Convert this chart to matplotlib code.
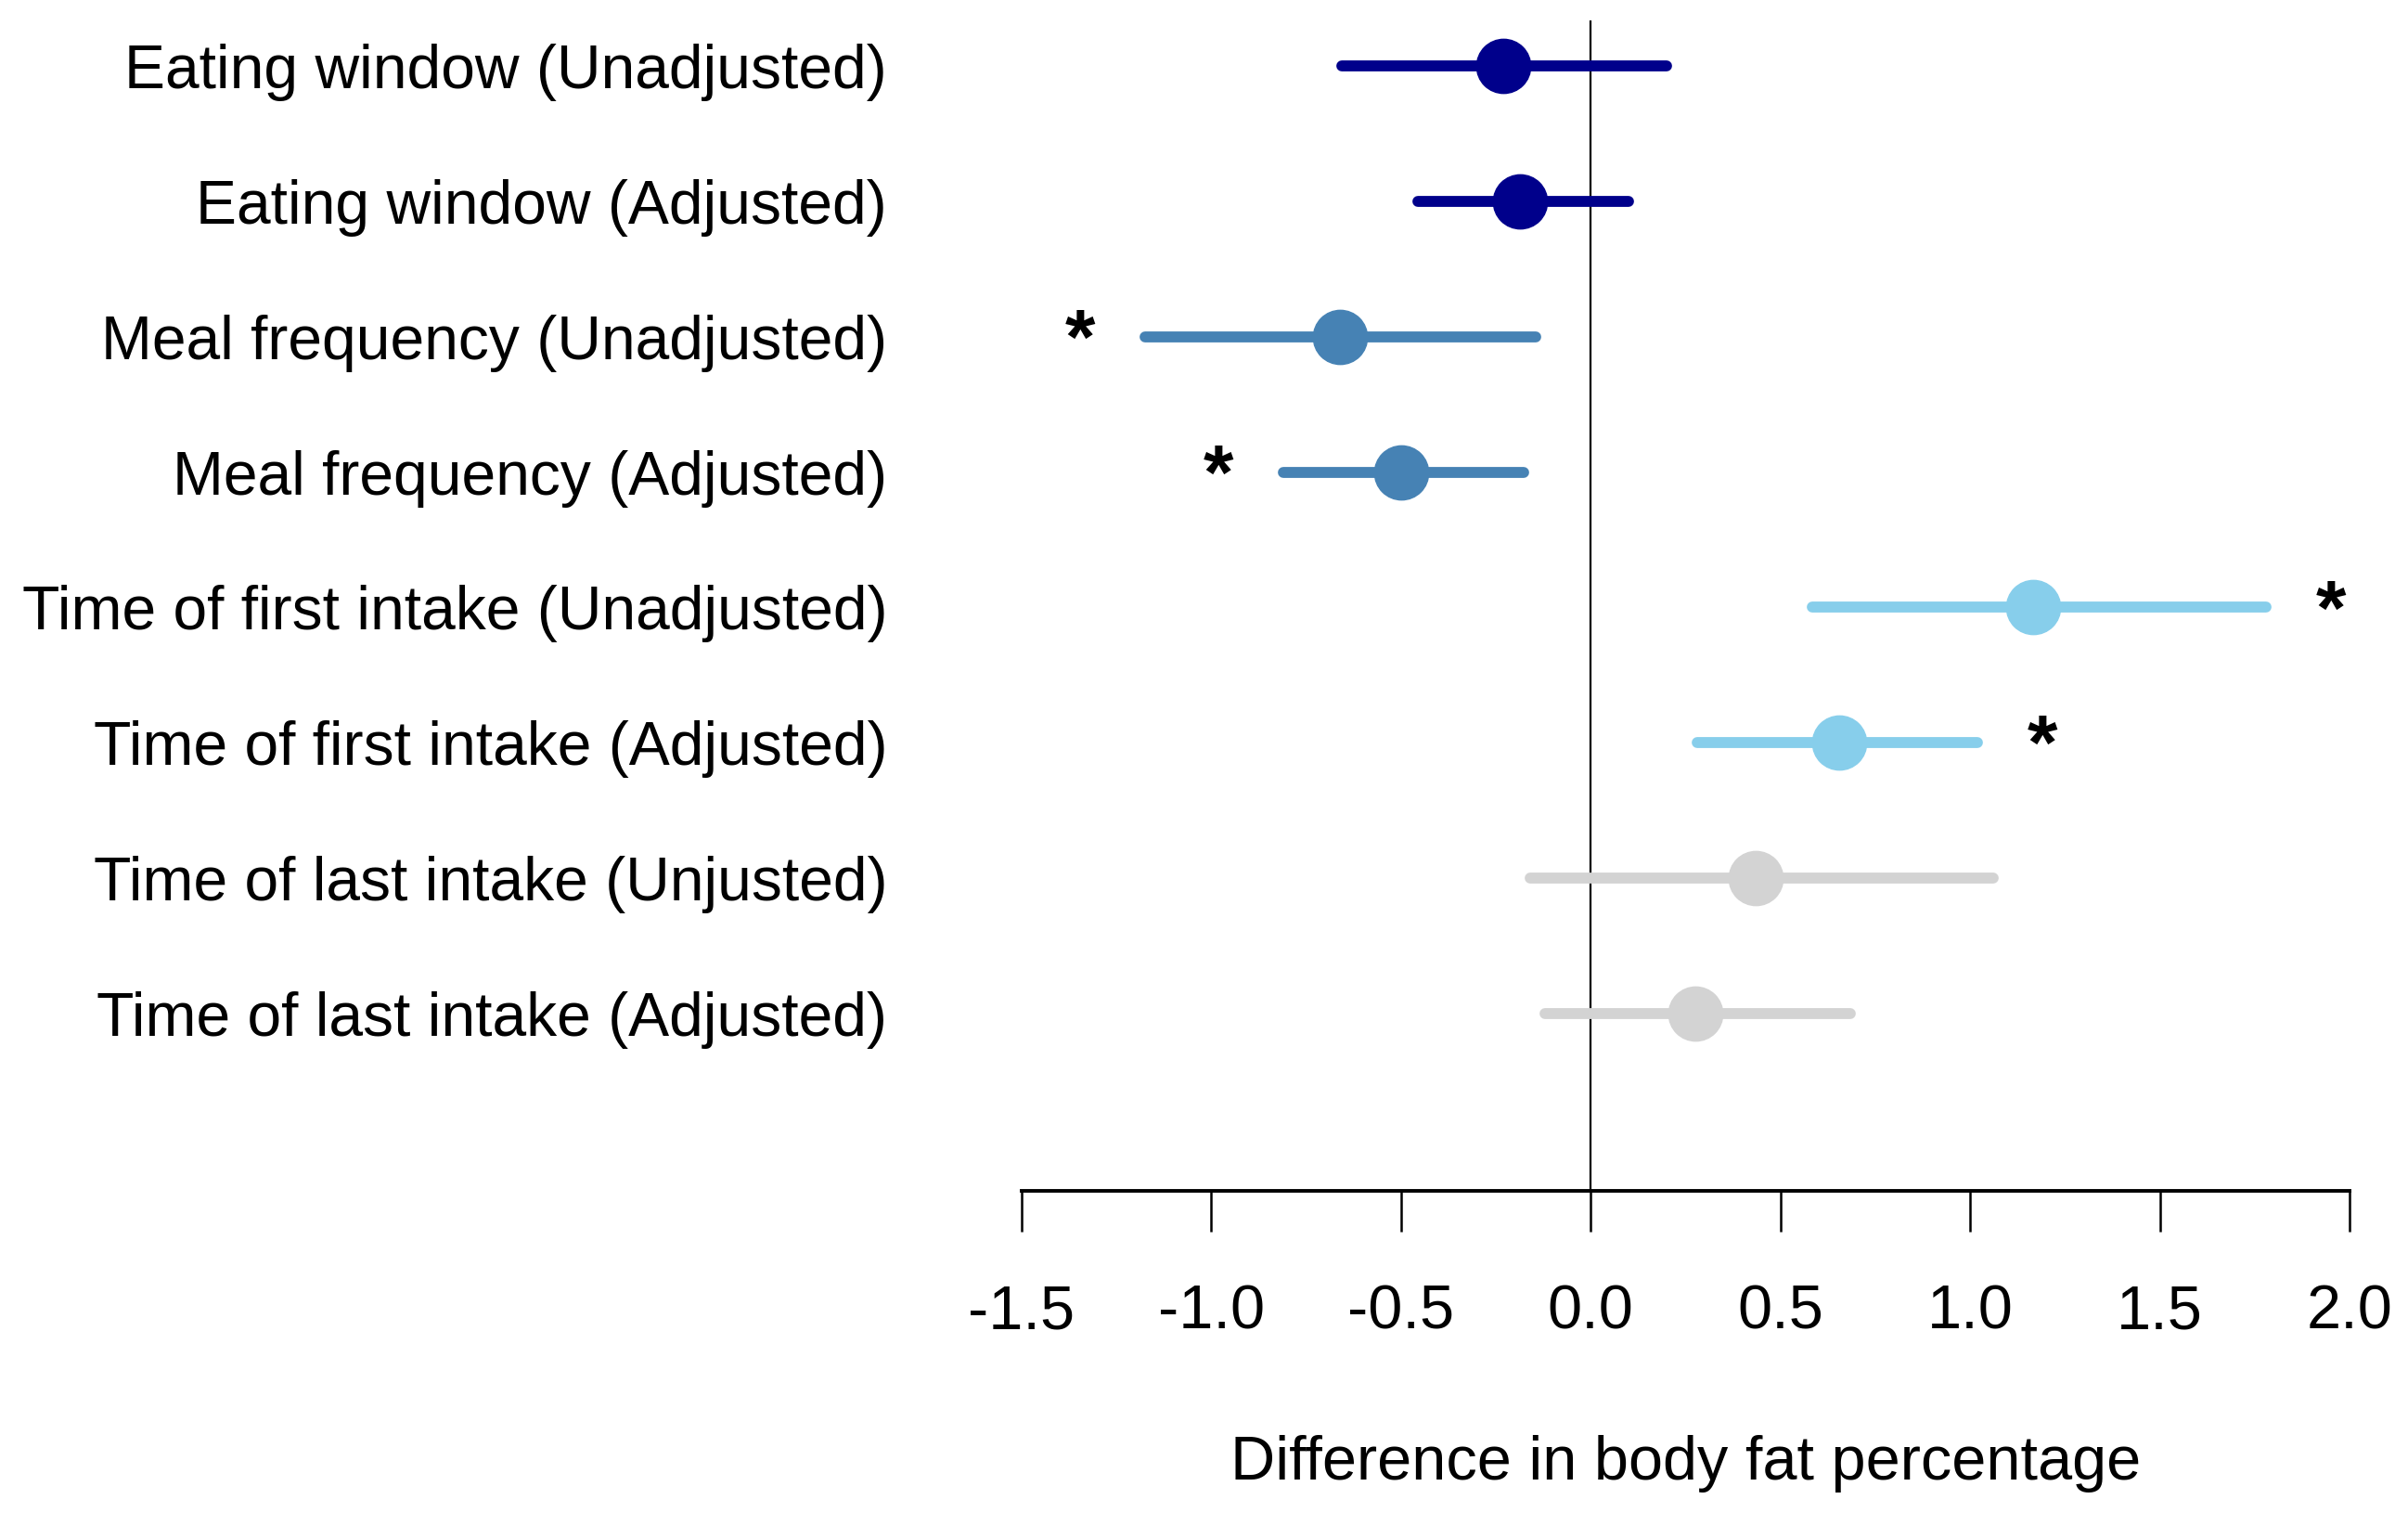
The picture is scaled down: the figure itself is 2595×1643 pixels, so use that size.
import matplotlib.pyplot as plt

labels = ["Eating window (Unadjusted)", "Eating window (Adjusted)",
          "Meal frequency (Unadjusted)", "Meal frequency (Adjusted)",
          "Time of first intake (Unadjusted)", "Time of first intake (Adjusted)",
          "Time of last intake (Unjusted)", "Time of last intake (Adjusted)"]
estimate = [-0.23, -0.185, -0.66, -0.50, 1.165, 0.655, 0.435, 0.275]
lower = [-0.655, -0.455, -1.175, -0.81, 0.585, 0.28, -0.16, -0.12]
upper = [0.20, 0.10, -0.145, -0.175, 1.78, 1.02, 1.06, 0.685]
significant = [False, False, True, True, True, True, False, False]
colors = ["#00008B", "#00008B", "#4682B4", "#4682B4",
          "#87CEEB", "#87CEEB", "#D3D3D3", "#D3D3D3"]
x_ticks = [-1.5, -1.0, -0.5, 0.0, 0.5, 1.0, 1.5, 2.0]

plt.rcParams["font.family"] = ["Liberation Sans", "DejaVu Sans"]

W, H = 2595, 1643
fig = plt.figure(figsize=(W / 100, H / 100), dpi=100)
left, right = 1100.6 / W, 2532 / W
bottom, top = 1 - 1283 / H, 1 - 21.5 / H
ax = fig.add_axes([left, bottom, right - left, top - bottom])

n = len(labels)
ypos = [n - i for i in range(n)]

ax.axvline(0, color="black", lw=1.6, zorder=1)

for i in range(n):
    ax.plot([lower[i], upper[i]], [ypos[i], ypos[i]], color=colors[i], lw=8.5,
            solid_capstyle="round", zorder=2, clip_on=False)
    ax.plot(estimate[i], ypos[i], "o", color=colors[i], markersize=42, zorder=3, clip_on=False)
    if significant[i]:
        # star sits just beyond the end of the interval, on the side away from zero
        if estimate[i] < 0:
            sx = lower[i] - 0.17
        else:
            sx = upper[i] + 0.17
        ax.annotate("*", (sx, ypos[i]), xytext=(0, -5), textcoords="offset points",
                    ha="center", va="center", fontsize=60, fontweight="bold", color="black")

ax.set_xlim(-1.5, 2.0)
ax.set_ylim(-0.31, n + 0.34)
ax.set_xticks(x_ticks)
ax.set_xticklabels([f"{t:.1f}" for t in x_ticks])
ax.set_yticks(ypos)
ax.set_yticklabels(labels)

for s in ["left", "top", "right"]:
    ax.spines[s].set_visible(False)
ax.spines["bottom"].set_linewidth(2.8)
ax.tick_params(axis="x", length=32, width=1.8, pad=40, labelsize=48)
ax.tick_params(axis="y", length=0, pad=104, labelsize=47.5)

fig.text((left + right) / 2, 1 - 1577 / H, "Difference in body fat percentage",
         ha="center", va="center", fontsize=48)

fig.savefig("out.png", dpi=100)
